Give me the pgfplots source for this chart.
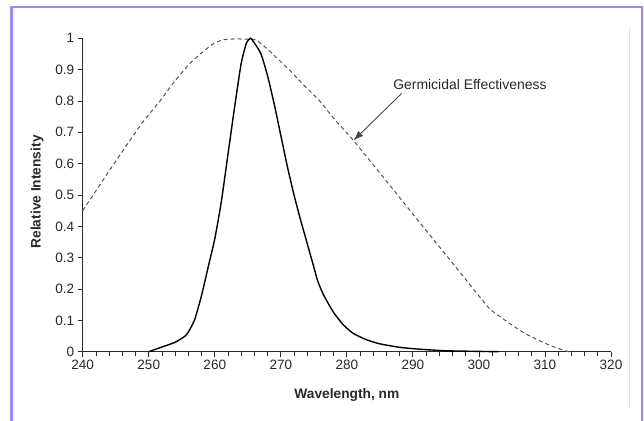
\documentclass[border=0pt]{standalone}
\usepackage{fontspec}
\setmainfont{Liberation Sans}
\usepackage{pgfplots}
\pgfplotsset{compat=1.18}
\usetikzlibrary{arrows.meta}
\definecolor{frame}{RGB}{152,138,240}
\definecolor{ink}{RGB}{40,40,40}
\begin{document}
\begin{tikzpicture}[x=1bp,y=1bp]
\useasboundingbox (0,0) rectangle (644,420);
% page frame
\draw[frame, line width=2.5bp] (11.7,-2) -- (11.7,413) -- (642,413) -- (642,-2);
\draw[black!10, line width=0.8bp] (629.3,392) -- (629.3,11);
\begin{axis}[
  at={(82.7bp,68.3bp)}, anchor=south west,
  scale only axis, width=528.3bp, height=313.4bp,
  xmin=240, xmax=320, ymin=0, ymax=1,
  axis lines=left,
  axis line style={-, ink, line width=0.9bp},
  xtick={240,250,260,270,280,290,300,310,320},
  xticklabels={240,250,260,270,280,290,300,310,320},
  minor x tick num=4,
  ytick={0,0.1,0.2,0.3,0.4,0.5,0.6,0.7,0.8,0.9,1},
  yticklabels={0,0.1,0.2,0.3,0.4,0.5,0.6,0.7,0.8,0.9,1},
  tick align=outside,
  major tick length=5bp, minor tick length=4bp,
  tick style={ink, line width=0.8bp},
  ticklabel style={font=\fontsize{13.6}{15}\selectfont, text=ink},
  every axis x label/.style={at={(axis description cs:0.5,0)}, yshift=-42.8bp, anchor=center},
  every axis y label/.style={at={(axis description cs:0,0.51)}, xshift=-45.7bp, rotate=90, anchor=center},
  label style={font=\fontsize{13.8}{15}\selectfont\bfseries, text=ink},
  xlabel={Wavelength, nm},
  ylabel={Relative Intensity},
  clip=false,
]
% germicidal effectiveness (dashed)
\addplot[ink!80, line width=1bp, dash pattern=on 4bp off 3bp, smooth, tension=0.3] coordinates {
  (240,0.45) (243,0.545) (246.1,0.642) (249,0.73) (251.7,0.80) (254,0.865)
  (256.2,0.919) (257.8,0.950) (259.8,0.983) (261.2,0.995) (263,0.998)
  (265,0.997) (266.3,0.994) (268,0.965) (270,0.925) (271.4,0.897)
  (273.5,0.85) (275.9,0.80) (278,0.745) (281,0.674) (286,0.544)
  (291,0.413) (296,0.283) (301.4,0.142) (303,0.115) (305,0.085)
  (307,0.058) (309.2,0.035) (311,0.018) (313.5,0) (314,0)
};
% lamp emission (solid)
\addplot[black, line width=1.4bp, smooth, tension=0.35] coordinates {
  (250,0) (252,0.015) (254,0.03) (255.5,0.05) (256.2,0.07) (257,0.105)
  (258,0.18) (259,0.27) (260,0.36) (261,0.48) (262,0.63) (263,0.78)
  (264,0.92) (264.8,0.985) (265.4,1.0) (266,0.985) (267,0.95) (268,0.88)
  (269,0.79) (270,0.69) (271,0.59) (272,0.50) (273,0.42) (274,0.345)
  (275,0.27) (275.6,0.225) (276.5,0.18) (278,0.125) (279.5,0.085)
  (281,0.058) (283,0.038) (285,0.025) (288,0.014) (291,0.008)
  (295,0.003) (300,0.001) (303,0)
};
\node[anchor=west, inner sep=0pt, font=\fontsize{14}{16}\selectfont, text=ink]
  at (axis cs:287,0.851) {Germicidal Effectiveness};
\draw[ink!85, line width=0.9bp, -{Latex[length=10bp, width=7bp]}]
  (axis cs:288.3,0.824) -- (axis cs:281,0.674);
\end{axis}
\end{tikzpicture}
\end{document}
